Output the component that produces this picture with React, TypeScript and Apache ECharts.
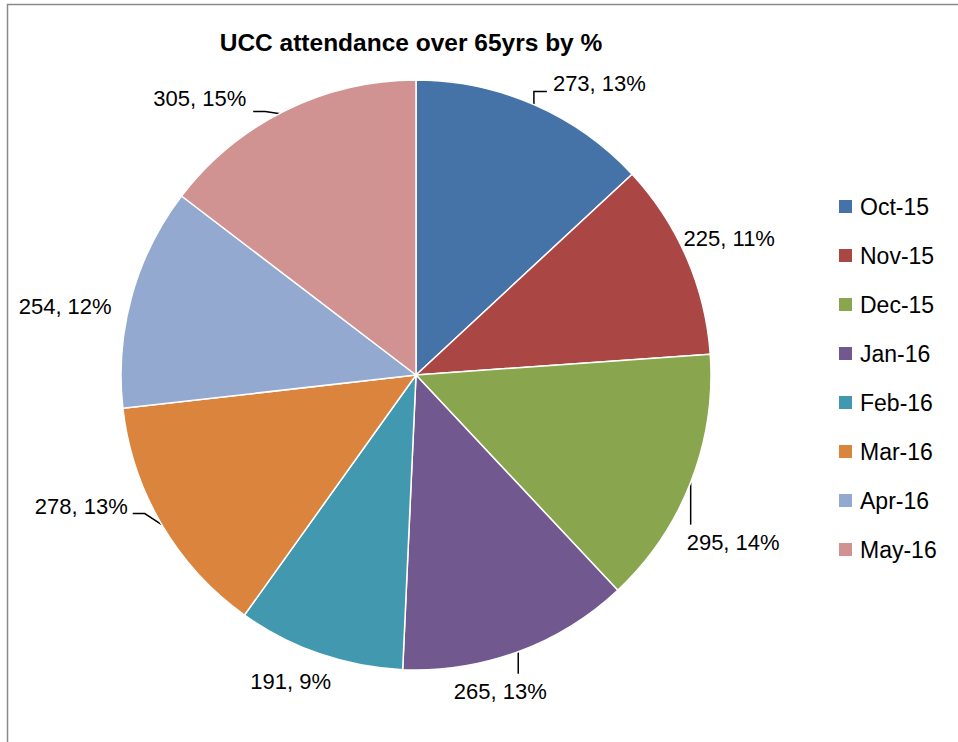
import React, { useEffect, useRef } from "react";
import * as echarts from "echarts";

const categories = ["Oct-15", "Nov-15", "Dec-15", "Jan-16", "Feb-16", "Mar-16", "Apr-16", "May-16"];
const attendance = [273, 225, 295, 265, 191, 278, 254, 305];
const colors = ["#4572A7", "#AA4643", "#89A54E", "#71588F", "#4198AF", "#DB843D", "#93A9CF", "#D19392"];
const titleText = "UCC attendance over 65yrs by %";

const CX = 416;
const CY = 375;
const R = 295;
const FONT = "'Liberation Sans', Arial, sans-serif";

// label placement relative to slice edge midpoint
const labelPlace: any[] = [
  { dx: 19, dy: -21, align: "left", line: [[0, 0], [0, -13], [13, -13]] },
  { dx: -3, dy: -19, align: "left", line: null },
  { dx: -4, dy: 60, align: "left", line: [[0, 0], [0, 42]] },
  { dx: -18, dy: 40, align: "center", line: [[0, 0], [0, 22]] },
  { dx: -29, dy: 28, align: "center", line: null },
  { dx: -34, dy: -18, align: "right", line: [[0, 0], [-17, -11], [-29, -11]] },
  { dx: -20, dy: 10, align: "right", line: null },
  { dx: -39, dy: -12, align: "right", line: [[0, 4], [-20, 1], [-32, 1]] },
];

function edgePoint(i: number) {
  const total = attendance.reduce((a, b) => a + b, 0);
  let cum = 0;
  for (let k = 0; k < i; k++) cum += attendance[k];
  const mid = ((cum + attendance[i] / 2) / total) * Math.PI * 2;
  return [CX + R * Math.sin(mid), CY - R * Math.cos(mid)];
}

export default function App() {
  const ref = useRef<HTMLDivElement>(null);
  useEffect(() => {
    if (!ref.current) return;
    const chart = echarts.init(ref.current, null, { renderer: "svg" });
    chart.setOption({
      animation: false,
      backgroundColor: "#ffffff",
      color: colors,
      graphic: [
        {
          type: "rect",
          shape: { x: 7.5, y: 4.5, width: 2000, height: 2000 },
          style: { fill: "none", stroke: "#8a8a8a", lineWidth: 1.5 },
          silent: true,
        },
        {
          type: "text",
          x: 411,
          y: 42,
          style: {
            text: titleText,
            fontFamily: FONT,
            fontSize: 24.5,
            fontWeight: "bold",
            fill: "#000",
            textAlign: "center",
            textVerticalAlign: "middle",
          },
        },
      ],
      legend: {
        orient: "vertical",
        left: 832,
        top: 190,
        icon: "rect",
        itemWidth: 15,
        itemHeight: 15,
        itemGap: 26,
        data: categories,
        textStyle: {
          fontFamily: FONT,
          fontSize: 23,
          lineHeight: 22,
          color: "#000",
          padding: [0, 0, 0, 2],
        },
      },
      series: [
        {
          type: "pie",
          center: [CX, CY],
          radius: R,
          startAngle: 90,
          clockwise: true,
          avoidLabelOverlap: false,
          percentPrecision: 0,
          itemStyle: { borderColor: "#ffffff", borderWidth: 1.5 },
          label: {
            show: true,
            position: "outside",
            formatter: "{c}, {d}%",
            fontFamily: FONT,
            fontSize: 22,
            color: "#000",
          },
          labelLine: { show: true, lineStyle: { color: "#000", width: 1.5 } },
          labelLayout: (params: any) => {
            const i = params.dataIndex;
            const p = labelPlace[i];
            const e = edgePoint(i);
            const out: any = {
              x: e[0] + p.dx,
              y: e[1] + p.dy,
              align: p.align,
              verticalAlign: "middle",
            };
            if (p.line) {
              out.labelLinePoints = p.line.map((q: number[]) => [e[0] + q[0], e[1] + q[1]]);
            }
            return out;
          },
          data: categories.map((c, i) => ({
            name: c,
            value: attendance[i],
            labelLine: { show: !!labelPlace[i].line },
          })),
        },
      ],
    });
    return () => chart.dispose();
  }, []);
  return (
    <div
      ref={ref}
      style={{ position: "fixed", left: 0, top: 0, width: 958, height: 742 }}
    />
  );
}
